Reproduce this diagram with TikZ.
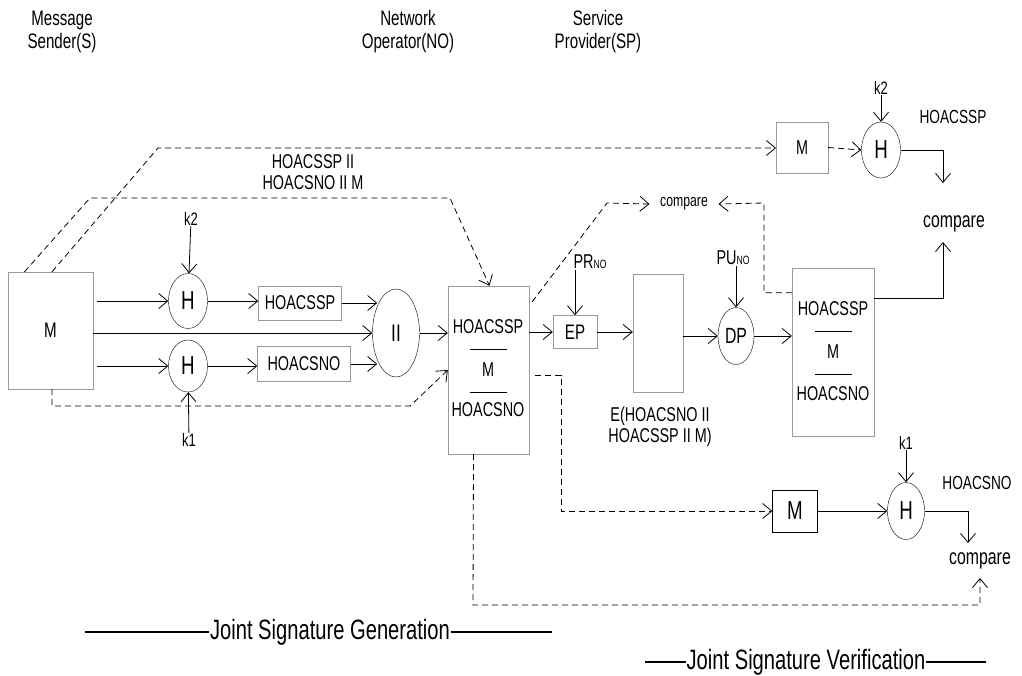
\documentclass[tikz,border=0pt]{standalone}
\usepackage{fontspec}
\setmainfont{Liberation Sans}[FakeStretch=0.72]
\usetikzlibrary{shapes,arrows.meta,positioning,calc}
\newcommand{\fsz}[2]{\fontsize{#1}{#2}\selectfont}

\begin{document}
\begin{tikzpicture}[x=1pt, y=-1pt,
  box/.style 2 args={draw=black!40, inner sep=0pt, minimum width=#1,
                     minimum height=#2, font=\fsz{20}{22}},
  oval/.style 2 args={draw, ellipse, inner sep=0pt, minimum width=#1,
                      minimum height=#2, font=\fsz{26}{26}},
  txt/.style={inner sep=0.5pt, font=\fsz{20}{21}, align=center},
  title/.style={font=\fsz{21}{23}, align=center},
  arr/.style={black, line width=0.8pt, -{Straight Barb[length=9pt,width=15pt]}},
  plain/.style={black, line width=0.9pt},
  dashline/.style={black, line width=1pt, dash pattern=on 6pt off 4pt}]

  \useasboundingbox (0,0) rectangle (1022,675);

  \node[title] (sendt) at (62,32)  {Message\\Sender(S)};
  \node[title] (opt)   at (408,32) {Network\\Operator(NO)};
  \node[title] (provt) at (598,32) {Service\\Provider(SP)};

  % signature generation at the sender
  \node[box={85pt}{117pt}, font=\fsz{21}{21}] (msg) at (50.5,330.5) {M};
  \node[oval={39pt}{55pt}] (hsp) at (188,301) {H};
  \node[oval={39pt}{52pt}] (hno) at (188,366) {H};
  \node[box={83pt}{34pt}] (sspbox) at (300,303) {HOACSSP};
  \node[box={93pt}{35pt}] (snobox) at (304,364) {HOACSNO};
  \node[oval={47pt}{88pt}, font=\fsz{24}{24}] (cat) at (396,333) {II};
  \node[txt, font=\fsz{18}{18}] (ktwo) at (191,219) {k2};
  \node[txt, font=\fsz{18}{18}] (kone) at (189,440) {k1};

  \draw[arr] (ktwo) -- (hsp);
  \draw[arr] (kone) -- (hno);
  \draw[arr] ([xshift=4pt]msg.east |- hsp) -- (hsp.west);
  \draw[arr] ([xshift=4pt]msg.east |- hno) -- (hno.west);
  \draw[arr] (msg.east |- cat) -- (cat.west);
  \draw[arr] (hsp.east) -- (sspbox.west |- hsp.east);
  \draw[arr] (hno.east) -- (snobox.west |- hno.east);
  \draw[arr] (sspbox.east) -- (sspbox.east -| cat.125);
  \draw[arr] (snobox.east) -- (snobox.east -| cat.235);

  % network operator
  \node[box={81pt}{168pt}] (nobox) at (488.5,370) {};
  \node[txt] (nossp) at (488,327) {HOACSSP};
  \node[txt] (nom)   at (488,370) {M};
  \node[txt] (nosno) at (488,410) {HOACSNO};
  \draw[plain] (470,349) -- (507,349);
  \draw[plain] (470,392) -- (507,392);

  \node[txt] (cattxt) at (313,172) {HOACSSP II\\HOACSNO II M};

  \draw[arr] (cat.east) -- (nobox.west |- cat.east);
  \draw[dashline, arr] ([xshift=-26pt]msg.north) -- (90,198) -- (450,198)
        -- ([xshift=1pt]nobox.north);
  \draw[dashline, arr] ([xshift=1.5pt]msg.north) -- (158,148) -- (776,148);
  \draw[dashline, arr] ([xshift=1.5pt]msg.south) -- (52,406) -- (410,406)
        -- (nobox.west);

  \node[box={44pt}{33pt}, font=\fsz{21}{21}] (ep) at (575,332) {EP};
  \node[txt] (prno) at (590,262) {PR{\fsz{12}{12}NO}};
  \node[box={50pt}{118pt}] (blank) at (658,333) {};
  \node[txt] (enc) at (660,427) {E(HOACSNO II\\HOACSSP II M)};
  \node[oval={36pt}{57pt}, font=\fsz{22}{22}] (dp) at (736,336) {DP};
  \node[txt] (puno) at (733,258) {PU{\fsz{12}{12}NO}};

  \draw[arr] (nobox.east |- ep) -- (ep.west);
  \draw[arr] (ep.north |- prno.south) -- (ep.north);
  \draw[arr] (ep.east) -- (blank.west |- ep.east);
  \draw[arr] (blank.east |- dp) -- (dp.west);
  \draw[arr] (dp.north |- puno.south) -- (dp.north);

  % service provider
  \node[box={82pt}{168pt}] (spbox) at (833,352) {};
  \node[txt] (spssp) at (833,309) {HOACSSP};
  \node[txt] (spm)   at (833,352) {M};
  \node[txt] (spsno) at (833,394) {HOACSNO};
  \draw[plain] (815,331) -- (852,331);
  \draw[plain] (815,374) -- (852,374);
  \draw[arr] (dp.east) -- (spbox.west |- dp.east);

  \node[txt, font=\fsz{17}{17}] (cmpno) at (684,204) {compare};
  \draw[dashline, arr] ([xshift=3pt,yshift=-16pt]nobox.north east) -- (607,203)
        -- ([xshift=-10pt]cmpno.west);
  \draw[dashline, arr] ([yshift=-25pt]spbox.north west) -| (764,203)
        -- ([xshift=10pt]cmpno.east);

  % verification of HOACSSP
  \node[box={52pt}{51pt}] (mver) at (802,147.5) {M};
  \node[oval={39pt}{56pt}] (hver) at (881,150) {H};
  \node[txt, font=\fsz{18}{18}] (ktwov) at (881,88) {k2};
  \node[txt, font=\fsz{19}{19}] (sspv) at (953,117) {HOACSSP};
  \node[txt, font=\fsz{22}{22}] (cmpsp) at (954,224) {compare};
  \coordinate (sptip) at (943,183);
  \coordinate (sptipb) at (943,242);

  \draw[dashline, arr] (mver.east) -- (hver.west);
  \draw[arr] (ktwov) -- (hver.north);
  \draw[arr] (hver.east) -| (sptip);
  \draw[arr] ([yshift=-31pt]spbox.north east) -| (sptipb);

  % verification of HOACSNO
  \node[draw, inner sep=0pt, minimum width=45pt, minimum height=42pt,
        font=\fsz{26}{26}] (mno) at (795,511) {M};
  \node[oval={37pt}{57pt}] (hnov) at (906,511) {H};
  \node[txt, font=\fsz{18}{18}] (konev) at (906,443) {k1};
  \node[txt, font=\fsz{19}{19}] (snov) at (977,483) {HOACSNO};
  \node[txt, font=\fsz{22}{22}] (cmpnov) at (980,561) {compare};
  \coordinate (notip) at (968,543);
  \coordinate (notipb) at (980,578);

  \draw[dashline, arr] ([xshift=6pt,yshift=-5pt]nobox.east) -- (561,375)
        |- (mno.west);
  \draw[arr] (mno.east) -- (hnov.west);
  \draw[arr] (konev) -- (hnov.north);
  \draw[arr] (hnov.east) -| (notip);
  \draw[dashline, arr] ([xshift=-15pt]nobox.south) -- (473,605) -| (notipb);

  % phase captions
  \node[txt, font=\fsz{28}{28}] (gen) at (330,632) {Joint Signature Generation};
  \node[txt, font=\fsz{28}{28}] (ver) at (806,662) {Joint Signature Verification};
  \draw[line width=1.4pt] (85,632) -- (gen.west);
  \draw[line width=1.4pt] (gen.east) -- (552,632);
  \draw[line width=1.4pt] (645,662) -- (ver.west);
  \draw[line width=1.4pt] (ver.east) -- (986,662);

\end{tikzpicture}
\end{document}
